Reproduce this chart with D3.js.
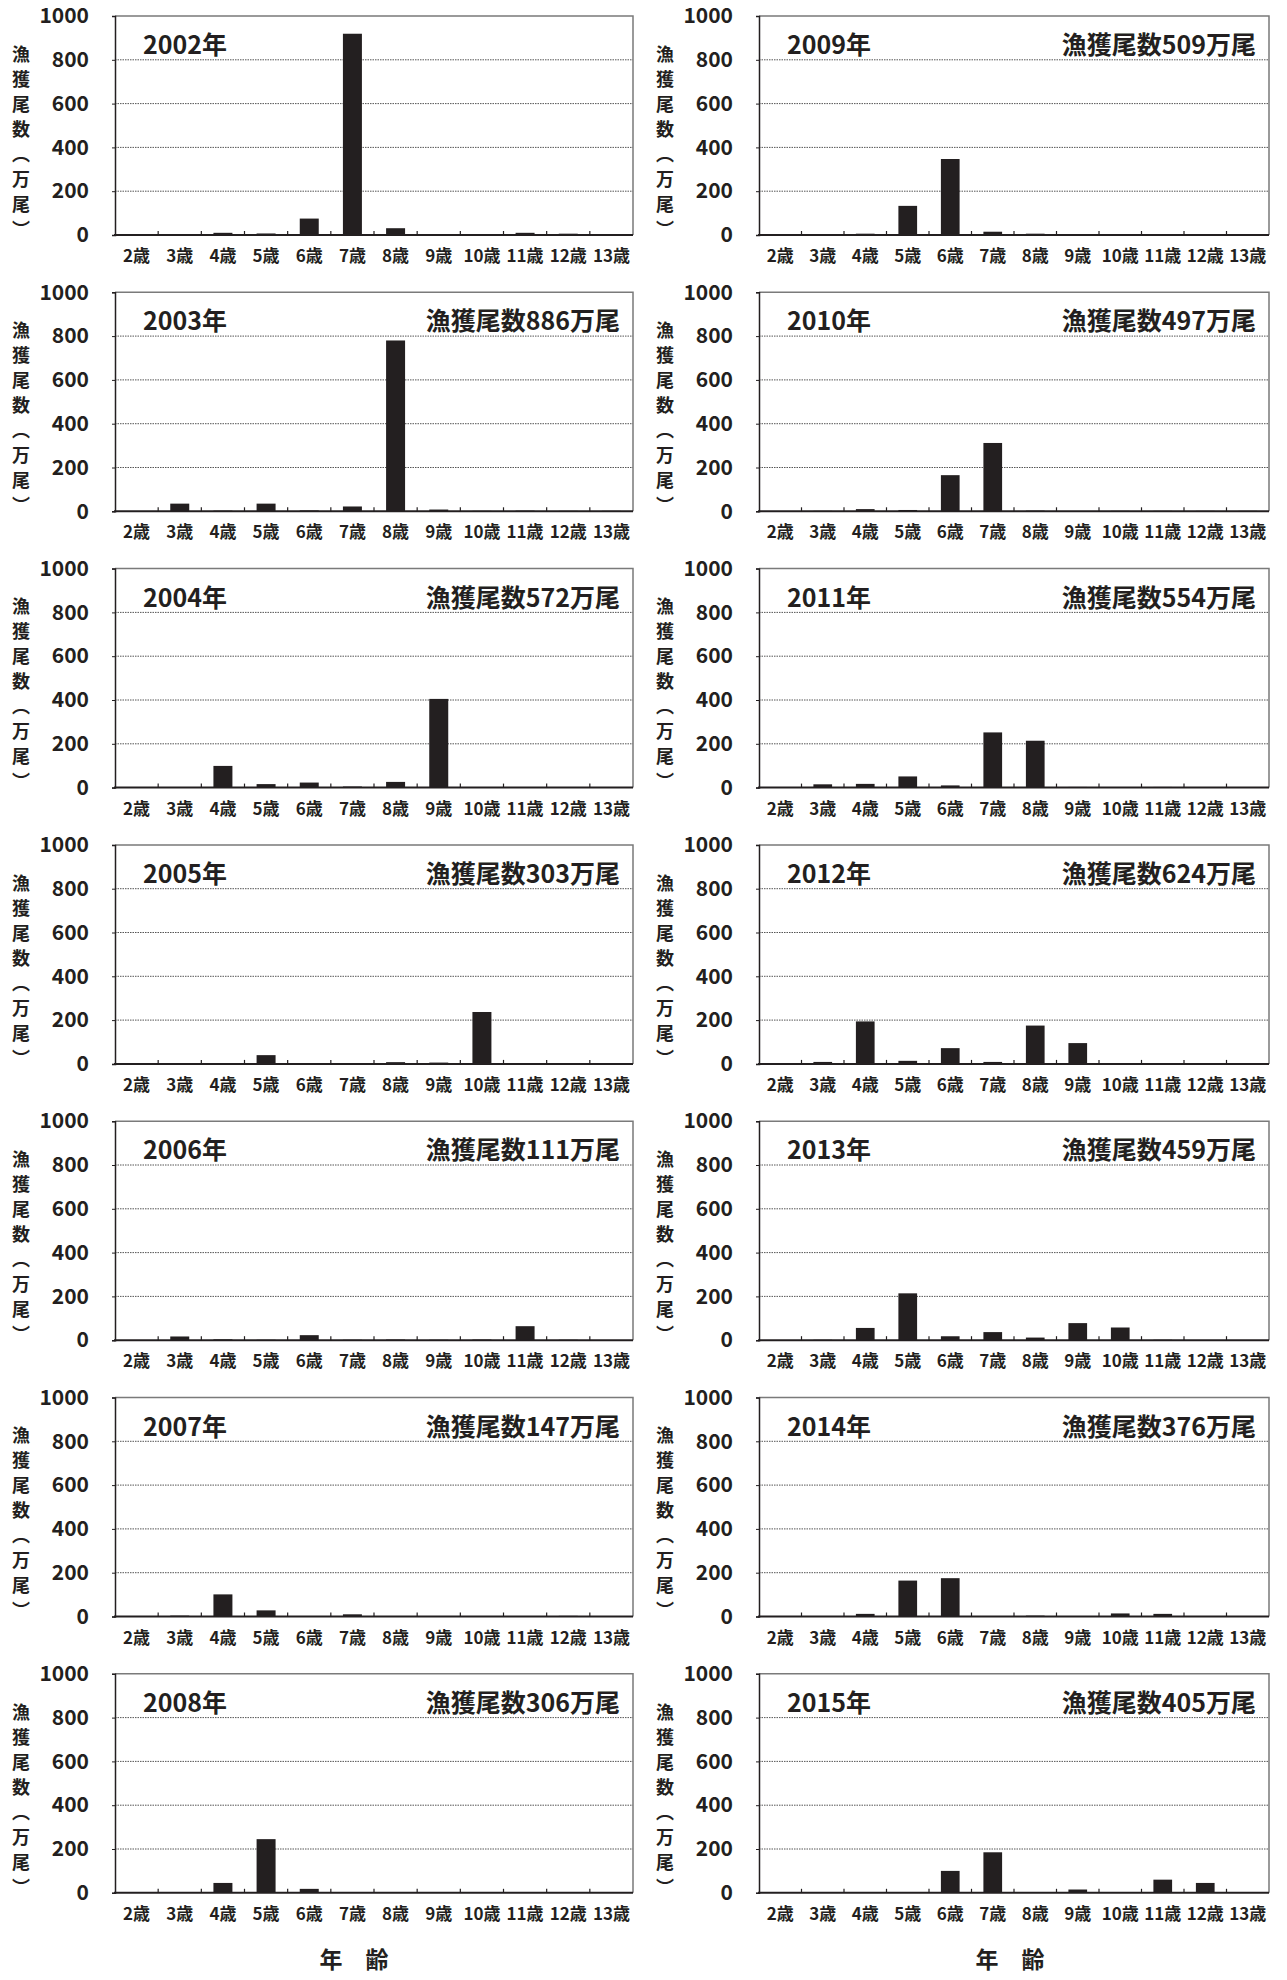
<!DOCTYPE html>
<html>
<head>
<meta charset="utf-8">
<script src="https://cdn.jsdelivr.net/npm/d3@7"></script>
<style>
  body { margin: 0; background: #fff; }
  text { font-family: "Noto Sans CJK JP", "Noto Sans", sans-serif; font-weight: 700; fill: #231f20; }
</style>
</head>
<body>
<script>
var svgWidth = 1287;
var svgHeight = 1980;

// tick labels and categories
var ages = ['2歳','3歳','4歳','5歳','6歳','7歳','8歳','9歳','10歳','11歳','12歳','13歳'];
var yTicks = [0, 200, 400, 600, 800, 1000];
var yTitle = '漁獲尾数（万尾）';

// catch in numbers (10,000 fish) by age
var c2002 = [0, 0, 10, 7, 75, 919, 31, 4, 4, 10, 6, 0];
var c2003 = [0, 35, 3, 35, 4, 22, 780, 8, 2, 3, 2, 2];
var c2004 = [0, 1, 99, 16, 23, 5, 26, 405, 2, 0, 0, 0];
var c2005 = [2, 0, 2, 40, 4, 3, 8, 6, 237, 2, 3, 0];
var c2006 = [0, 17, 4, 2, 23, 2, 3, 2, 3, 64, 2, 0];
var c2007 = [0, 4, 101, 28, 2, 10, 2, 0, 0, 0, 3, 0];
var c2008 = [0, 3, 45, 245, 18, 3, 3, 3, 3, 3, 3, 3];
var c2009 = [0, 1, 6, 133, 347, 15, 6, 2, 1, 1, 1, 1];
var c2010 = [0, 2, 10, 6, 165, 312, 3, 0, 2, 2, 2, 2];
var c2011 = [0, 15, 17, 51, 10, 252, 214, 3, 0, 3, 0, 0];
var c2012 = [0, 9, 194, 14, 72, 9, 175, 95, 0, 0, 2, 0];
var c2013 = [0, 2, 56, 214, 18, 37, 12, 78, 58, 2, 0, 0];
var c2014 = [0, 0, 12, 164, 175, 1, 4, 2, 14, 12, 0, 0];
var c2015 = [0, 0, 2, 3, 100, 185, 3, 15, 3, 60, 45, 0];

var years = ['2002年','2003年','2004年','2005年','2006年','2007年','2008年',
             '2009年','2010年','2011年','2012年','2013年','2014年','2015年'];
var totals = [null, 886, 572, 303, 111, 147, 306, 509, 497, 554, 624, 459, 376, 405];
var series = [c2002, c2003, c2004, c2005, c2006, c2007, c2008,
              c2009, c2010, c2011, c2012, c2013, c2014, c2015];

var svg = d3.select('body').append('svg')
  .attr('width', svgWidth)
  .attr('height', svgHeight);

var cols = [{left: 115, right: 633}, {left: 759, right: 1269}];
var plotH = 219;

var drawPanel = function(k){
  var col = cols[Math.floor(k / 7)];
  var row = k % 7;
  var zero = 235 + row * 276.3;
  var top = zero - plotH;
  var values = series[k];

  var x = d3.scaleBand().domain(ages).range([col.left, col.right]);
  var xb = d3.scaleBand().domain(ages).range([col.left, col.right])
    .paddingInner(0.56).paddingOuter(0.28);
  var y = d3.scaleLinear().domain([0, 1000]).range([zero, top]);

  var g = svg.append('g');

  // grid
  g.selectAll('.grid').data([200, 400, 600, 800]).enter().append('line')
    .attr('x1', col.left).attr('x2', col.right)
    .attr('y1', function(d){ return y(d); })
    .attr('y2', function(d){ return y(d); })
    .attr('stroke', '#555').attr('stroke-width', 1).attr('stroke-dasharray', '1.5,1');

  // frame top & right
  g.append('path')
    .attr('d', 'M' + col.left + ',' + top + 'H' + col.right + 'V' + zero)
    .attr('fill', 'none').attr('stroke', '#7a7a7a').attr('stroke-width', 1.5);

  // bars
  g.selectAll('.bar').data(values).enter().append('rect')
    .attr('x', function(d, i){ return xb(ages[i]); })
    .attr('width', xb.bandwidth())
    .attr('y', function(d){ return y(d); })
    .attr('height', function(d){ return zero - y(d); })
    .attr('fill', '#231f20');

  // y axis
  var yAxis = g.append('g').attr('transform', 'translate(' + col.left + ',0)')
    .call(d3.axisLeft(y).tickValues(yTicks).tickFormat(d3.format('d')).tickSize(3).tickPadding(23));
  yAxis.select('.domain').attr('stroke', '#231f20').attr('stroke-width', 1.5);
  yAxis.selectAll('.tick line').attr('stroke', '#231f20');
  yAxis.selectAll('.tick text')
    .style('font-size', '21px').attr('fill', '#231f20');

  // x axis
  g.append('line')
    .attr('x1', col.left - 1).attr('x2', col.right)
    .attr('y1', zero).attr('y2', zero)
    .attr('stroke', '#231f20').attr('stroke-width', 2);
  g.selectAll('.xt').data(ages.slice(1)).enter().append('line')
    .attr('x1', function(d){ return x(d); })
    .attr('x2', function(d){ return x(d); })
    .attr('y1', zero).attr('y2', zero - 4)
    .attr('stroke', '#231f20').attr('stroke-width', 1.2);
  g.selectAll('.xl').data(ages).enter().append('text')
    .attr('x', function(d){ return x(d) + x.bandwidth() / 2; })
    .attr('y', zero + 27)
    .attr('text-anchor', 'middle')
    .style('font-size', '17px')
    .text(function(d){ return d; });

  // y title, vertical writing
  g.append('text')
    .attr('x', col.left - 94)
    .attr('y', zero - 190)
    .style('writing-mode', 'vertical-rl')
    .style('font-size', '18px')
    .style('letter-spacing', '7px')
    .text(yTitle);

  // year and total
  g.append('text')
    .attr('x', col.left + 28).attr('y', zero - 181)
    .style('font-size', '25px')
    .text(years[k]);
  if(totals[k] !== null){
    g.append('text')
      .attr('x', col.right - 13).attr('y', zero - 181)
      .attr('text-anchor', 'end')
      .style('font-size', '25px')
      .text('漁獲尾数' + totals[k] + '万尾');
  }
}

for(var k = 0; k < series.length; k++){
  drawPanel(k);
}

// bottom labels
svg.selectAll('.age').data([354, 1010]).enter().append('text')
  .attr('x', function(d){ return d; })
  .attr('y', 1968)
  .attr('text-anchor', 'middle')
  .style('font-size', '23px')
  .text('年　齢');
</script>
</body>
</html>
